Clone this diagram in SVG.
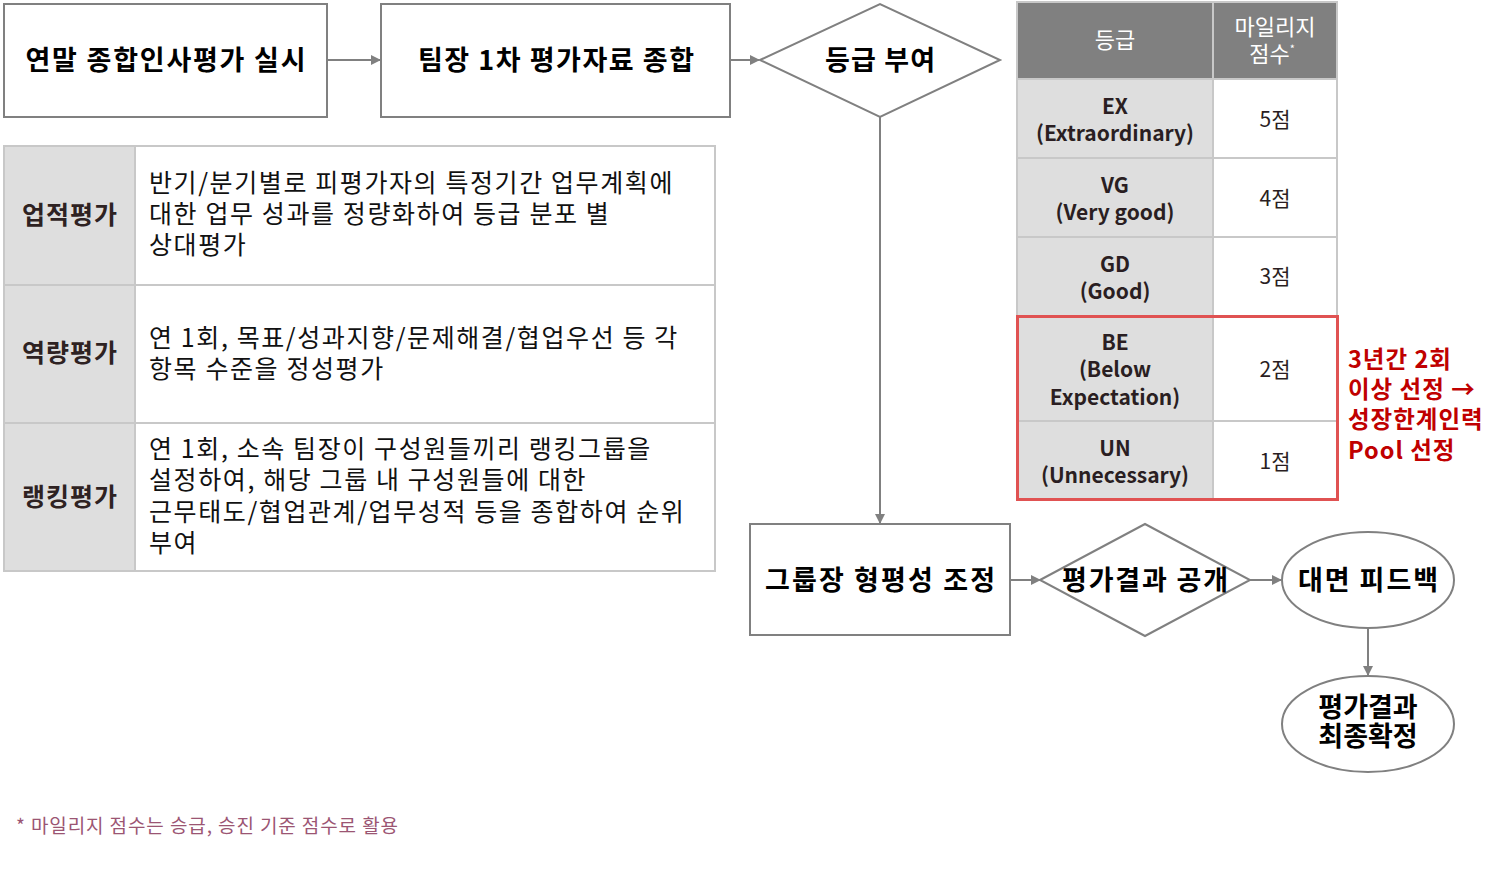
<svg xmlns="http://www.w3.org/2000/svg" width="1506" height="873" viewBox="0 0 1506 873">
<defs>
<marker id="ah" markerWidth="10" markerHeight="10" refX="9" refY="5" orient="auto" markerUnits="userSpaceOnUse">
<path d="M0,0 L10,5 L0,10 Z" fill="#808080"/>
</marker>
<style>
.shape{fill:#fff;stroke:#808080;stroke-width:2}
.ft{font-family:"Noto Sans CJK KR","Noto Sans",sans-serif;font-weight:bold;font-size:27px;fill:#000;text-anchor:middle}
.conn{stroke:#808080;stroke-width:2;fill:none}
.lab{fill:#dedede;stroke:#c8c8c8;stroke-width:2}
.cell{fill:#fff;stroke:#c8c8c8;stroke-width:2}
.hd{fill:#808080;stroke:#c8c8c8;stroke-width:2}
.lt{font-family:"Noto Sans CJK KR","Noto Sans",sans-serif;font-weight:bold;font-size:25px;letter-spacing:1px;fill:#2e2222;text-anchor:middle}
.bt{font-family:"Noto Sans CJK KR","Noto Sans",sans-serif;font-size:25px;letter-spacing:1.6px;fill:#111}
.ht{font-family:"Noto Sans CJK KR","Noto Sans",sans-serif;font-size:22px;fill:#fff;text-anchor:middle}
.gt{font-family:"Noto Sans CJK KR","Noto Sans",sans-serif;font-weight:bold;font-size:21px;fill:#2a1e22;text-anchor:middle}
.pt{font-family:"Noto Sans CJK KR","Noto Sans",sans-serif;font-size:21px;fill:#2a1e22;text-anchor:middle}
.rt{font-family:"Noto Sans CJK KR","Noto Sans",sans-serif;font-weight:bold;font-size:23.5px;letter-spacing:1px;fill:#c00000}
</style>
</defs>
<rect width="1506" height="873" fill="#fff"/>

<g id="connectors">
<line class="conn" x1="327" y1="60" x2="380" y2="60" marker-end="url(#ah)"/>
<line class="conn" x1="730" y1="60" x2="759" y2="60" marker-end="url(#ah)"/>
<line class="conn" x1="880" y1="117" x2="880" y2="523" marker-end="url(#ah)"/>
<line class="conn" x1="1010" y1="580" x2="1040" y2="580" marker-end="url(#ah)"/>
<line class="conn" x1="1250" y1="580" x2="1281" y2="580" marker-end="url(#ah)"/>
<line class="conn" x1="1368" y1="628" x2="1368" y2="675" marker-end="url(#ah)"/>
</g>

<g id="n-year-end">
<rect class="shape" x="4" y="4" width="323" height="113"/>
<text class="ft" x="165.5" y="70" textLength="280" lengthAdjust="spacing">연말 종합인사평가 실시</text>
</g>
<g id="n-team-lead">
<rect class="shape" x="381" y="4" width="349" height="113"/>
<text class="ft" x="556" y="70" textLength="276" lengthAdjust="spacing">팀장 1차 평가자료 종합</text>
</g>
<g id="n-grade">
<polygon class="shape" points="760,60 880,4 1000,60 880,117"/>
<text class="ft" x="880" y="70" textLength="110" lengthAdjust="spacing">등급 부여</text>
</g>
<g id="n-group-adjust">
<rect class="shape" x="750" y="524" width="260" height="111"/>
<text class="ft" x="880" y="590" textLength="230" lengthAdjust="spacing">그룹장 형평성 조정</text>
</g>
<g id="n-publish">
<polygon class="shape" points="1040,580 1145,524 1250,580 1145,636"/>
<text class="ft" x="1145" y="590" textLength="166" lengthAdjust="spacing">평가결과 공개</text>
</g>
<g id="n-feedback">
<ellipse class="shape" cx="1368" cy="580" rx="86" ry="48"/>
<text class="ft" x="1368" y="590" textLength="140" lengthAdjust="spacing">대면 피드백</text>
</g>
<g id="n-final">
<ellipse class="shape" cx="1368" cy="724" rx="86" ry="48"/>
<text class="ft" x="1368" y="717" font-size="26">평가결과</text>
<text class="ft" x="1368" y="746" font-size="26">최종확정</text>
</g>

<g id="eval-table">
<rect class="lab" x="4" y="146" width="131" height="139"/>
<rect class="cell" x="135" y="146" width="580" height="139"/>
<rect class="lab" x="4" y="285" width="131" height="138"/>
<rect class="cell" x="135" y="285" width="580" height="138"/>
<rect class="lab" x="4" y="423" width="131" height="148"/>
<rect class="cell" x="135" y="423" width="580" height="148"/>
<text class="lt" x="70" y="224">업적평가</text>
<text class="lt" x="70" y="362">역량평가</text>
<text class="lt" x="70" y="506">랭킹평가</text>
<text class="bt" x="149" y="192">반기/분기별로 피평가자의 특정기간 업무계획에</text>
<text class="bt" x="149" y="223">대한 업무 성과를 정량화하여 등급 분포 별</text>
<text class="bt" x="149" y="254">상대평가</text>
<text class="bt" x="149" y="347">연 1회, 목표/성과지향/문제해결/협업우선 등 각</text>
<text class="bt" x="149" y="378">항목 수준을 정성평가</text>
<text class="bt" x="149" y="458">연 1회, 소속 팀장이 구성원들끼리 랭킹그룹을</text>
<text class="bt" x="149" y="489">설정하여, 해당 그룹 내 구성원들에 대한</text>
<text class="bt" x="149" y="521">근무태도/협업관계/업무성적 등을 종합하여 순위</text>
<text class="bt" x="149" y="552">부여</text>
</g>

<g id="grade-table">
<rect class="hd" x="1017" y="2" width="196" height="77"/>
<rect class="hd" x="1213" y="2" width="124" height="77"/>
<rect class="lab" x="1017" y="79" width="196" height="79"/>
<rect class="cell" x="1213" y="79" width="124" height="79"/>
<rect class="lab" x="1017" y="158" width="196" height="79"/>
<rect class="cell" x="1213" y="158" width="124" height="79"/>
<rect class="lab" x="1017" y="237" width="196" height="79"/>
<rect class="cell" x="1213" y="237" width="124" height="79"/>
<rect class="lab" x="1017" y="316" width="196" height="105"/>
<rect class="cell" x="1213" y="316" width="124" height="105"/>
<rect class="lab" x="1017" y="421" width="196" height="79"/>
<rect class="cell" x="1213" y="421" width="124" height="79"/>
<rect x="1017.5" y="316.5" width="320" height="183" fill="none" stroke="#e05252" stroke-width="3"/>
<text class="ht" x="1115" y="48">등급</text>
<text class="ht" x="1275" y="35">마일리지</text>
<text class="ht" x="1272" y="62">점수<tspan font-size="11" dy="-9">*</tspan></text>
<text class="gt" x="1115" y="114">EX</text>
<text class="gt" x="1115" y="141">(Extraordinary)</text>
<text class="gt" x="1115" y="193">VG</text>
<text class="gt" x="1115" y="220">(Very good)</text>
<text class="gt" x="1115" y="272">GD</text>
<text class="gt" x="1115" y="299">(Good)</text>
<text class="gt" x="1115" y="350">BE</text>
<text class="gt" x="1115" y="377">(Below</text>
<text class="gt" x="1115" y="405">Expectation)</text>
<text class="gt" x="1115" y="456">UN</text>
<text class="gt" x="1115" y="483">(Unnecessary)</text>
<text class="pt" x="1275" y="127">5점</text>
<text class="pt" x="1275" y="206">4점</text>
<text class="pt" x="1275" y="284">3점</text>
<text class="pt" x="1275" y="377">2점</text>
<text class="pt" x="1275" y="469">1점</text>
</g>

<g id="note-red">
<text class="rt" x="1348" y="368">3년간 2회</text>
<text class="rt" x="1348" y="398">이상 선정 →</text>
<text class="rt" x="1348" y="428">성장한계인력</text>
<text class="rt" x="1348" y="459">Pool 선정</text>
</g>

<text x="16" y="833" font-family="Noto Sans CJK KR, Noto Sans, sans-serif" font-size="19" letter-spacing="0.9" fill="#9b5573">* 마일리지 점수는 승급, 승진 기준 점수로 활용</text>
</svg>
